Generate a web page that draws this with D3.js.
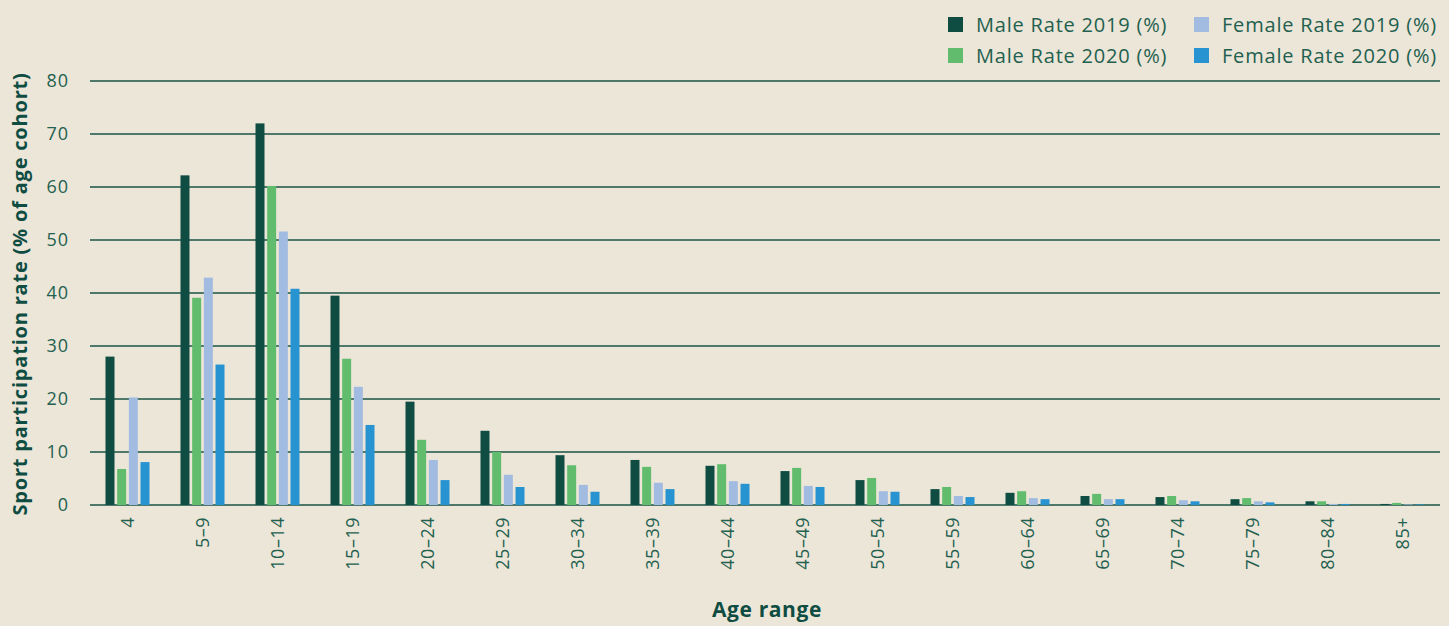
<!DOCTYPE html>
<html>
<head>
<meta charset="utf-8">
<script src="https://cdn.jsdelivr.net/npm/d3@7/dist/d3.min.js"></script>
<style>
  html, body { margin: 0; padding: 0; background: #ece6d8; }
  svg { display: block; }
</style>
</head>
<body>
<svg id="chart" width="1449" height="626"></svg>
<script>
const categories = ["4","5–9","10–14","15–19","20–24","25–29","30–34","35–39","40–44","45–49","50–54","55–59","60–64","65–69","70–74","75–79","80–84","85+"];
const seriesNames = ["Male Rate 2019 (%)","Male Rate 2020 (%)","Female Rate 2019 (%)","Female Rate 2020 (%)"];
const male2019   = [28.0, 62.2, 72.0, 39.5, 19.5, 14.0, 9.4, 8.5, 7.4, 6.4, 4.7, 3.0, 2.3, 1.7, 1.5, 1.1, 0.7, 0.2];
const male2020   = [6.8, 39.1, 60.2, 27.6, 12.3, 10.0, 7.5, 7.2, 7.7, 7.0, 5.1, 3.4, 2.6, 2.1, 1.7, 1.3, 0.7, 0.4];
const female2019 = [20.3, 42.9, 51.6, 22.3, 8.5, 5.7, 3.8, 4.2, 4.5, 3.6, 2.6, 1.7, 1.3, 1.1, 0.9, 0.7, 0.2, 0.1];
const female2020 = [8.1, 26.5, 40.8, 15.1, 4.7, 3.4, 2.5, 3.0, 4.0, 3.4, 2.5, 1.5, 1.1, 1.1, 0.7, 0.5, 0.2, 0.1];
const yTicks = [0,10,20,30,40,50,60,70,80];
const colors = ["#0f4d43","#61bd6d","#a2bbe0","#2793d1"];

const seriesValues = [male2019, male2020, female2019, female2020];
const data = categories.map((c, i) => ({cat: c, vals: seriesValues.map(s => s[i])}));

const svg = d3.select("#chart");
const textColor = "#23604f";
const font = "'Open Sans', sans-serif";

const x0 = d3.scaleBand().domain(categories).range([90, 1440]).padding(0);
const x1 = d3.scaleBand().domain(d3.range(4)).range([15.5, 59.5]).paddingInner(0.23).paddingOuter(0);
const y = d3.scaleLinear().domain([0, 80]).range([505, 81]);

// gridlines
svg.append("g").selectAll("line").data(yTicks).join("line")
  .attr("x1", 90).attr("x2", 1440)
  .attr("y1", d => y(d)).attr("y2", d => y(d))
  .attr("stroke", "#1a5546").attr("stroke-width", 1.3);

// y axis labels
const yAxis = d3.axisLeft(y).tickValues(yTicks).tickSize(0).tickPadding(0);
const yg = svg.append("g").attr("transform", "translate(69,0)").call(yAxis);
yg.select(".domain").remove();
yg.selectAll("text").attr("font-family", font).attr("font-size", 18)
  .attr("letter-spacing", 1).attr("fill", textColor);

// bars
const groups = svg.append("g").selectAll("g").data(data).join("g")
  .attr("transform", d => `translate(${x0(d.cat)},0)`);
groups.selectAll("rect").data(d => d.vals.map((v, k) => ({k, v}))).join("rect")
  .attr("x", d => x1(d.k))
  .attr("width", x1.bandwidth())
  .attr("y", d => y(d.v))
  .attr("height", d => y(0) - y(d.v))
  .attr("fill", d => colors[d.k]);

// x axis labels
const xAxis = d3.axisBottom(x0).tickSize(0).tickPadding(0);
const xg = svg.append("g").attr("transform", "translate(0,505)").call(xAxis);
xg.select(".domain").remove();
xg.selectAll("text")
  .attr("font-family", font).attr("font-size", 18).attr("letter-spacing", 0.5).attr("fill", textColor)
  .attr("transform", "rotate(-90)")
  .attr("text-anchor", "end")
  .attr("x", -12).attr("y", 0).attr("dy", "0.35em");

// axis titles
svg.append("text")
  .attr("transform", "translate(27,294) rotate(-90)")
  .attr("text-anchor", "middle")
  .attr("font-family", font).attr("font-weight", 700).attr("font-size", 20)
  .attr("letter-spacing", 0.8)
  .attr("fill", "#0f4d43")
  .text("Sport participation rate (% of age cohort)");

svg.append("text")
  .attr("x", 767).attr("y", 617)
  .attr("text-anchor", "middle")
  .attr("font-family", font).attr("font-weight", 700).attr("font-size", 21)
  .attr("letter-spacing", 0.6)
  .attr("fill", "#0f4d43")
  .text("Age range");

// legend
const legendPos = [[948, 17], [948, 48], [1194, 17], [1194, 48]];
const lg = svg.append("g").selectAll("g").data(seriesNames).join("g")
  .attr("transform", (d, i) => `translate(${legendPos[i][0]},${legendPos[i][1]})`);
lg.append("rect").attr("width", 15).attr("height", 15).attr("fill", (d, i) => colors[i]);
lg.append("text").attr("x", 28).attr("y", 7.5).attr("dy", "0.35em")
  .attr("font-family", font).attr("font-size", 20).attr("letter-spacing", 0.8).attr("fill", textColor)
  .text(d => d);
</script>
</body>
</html>
